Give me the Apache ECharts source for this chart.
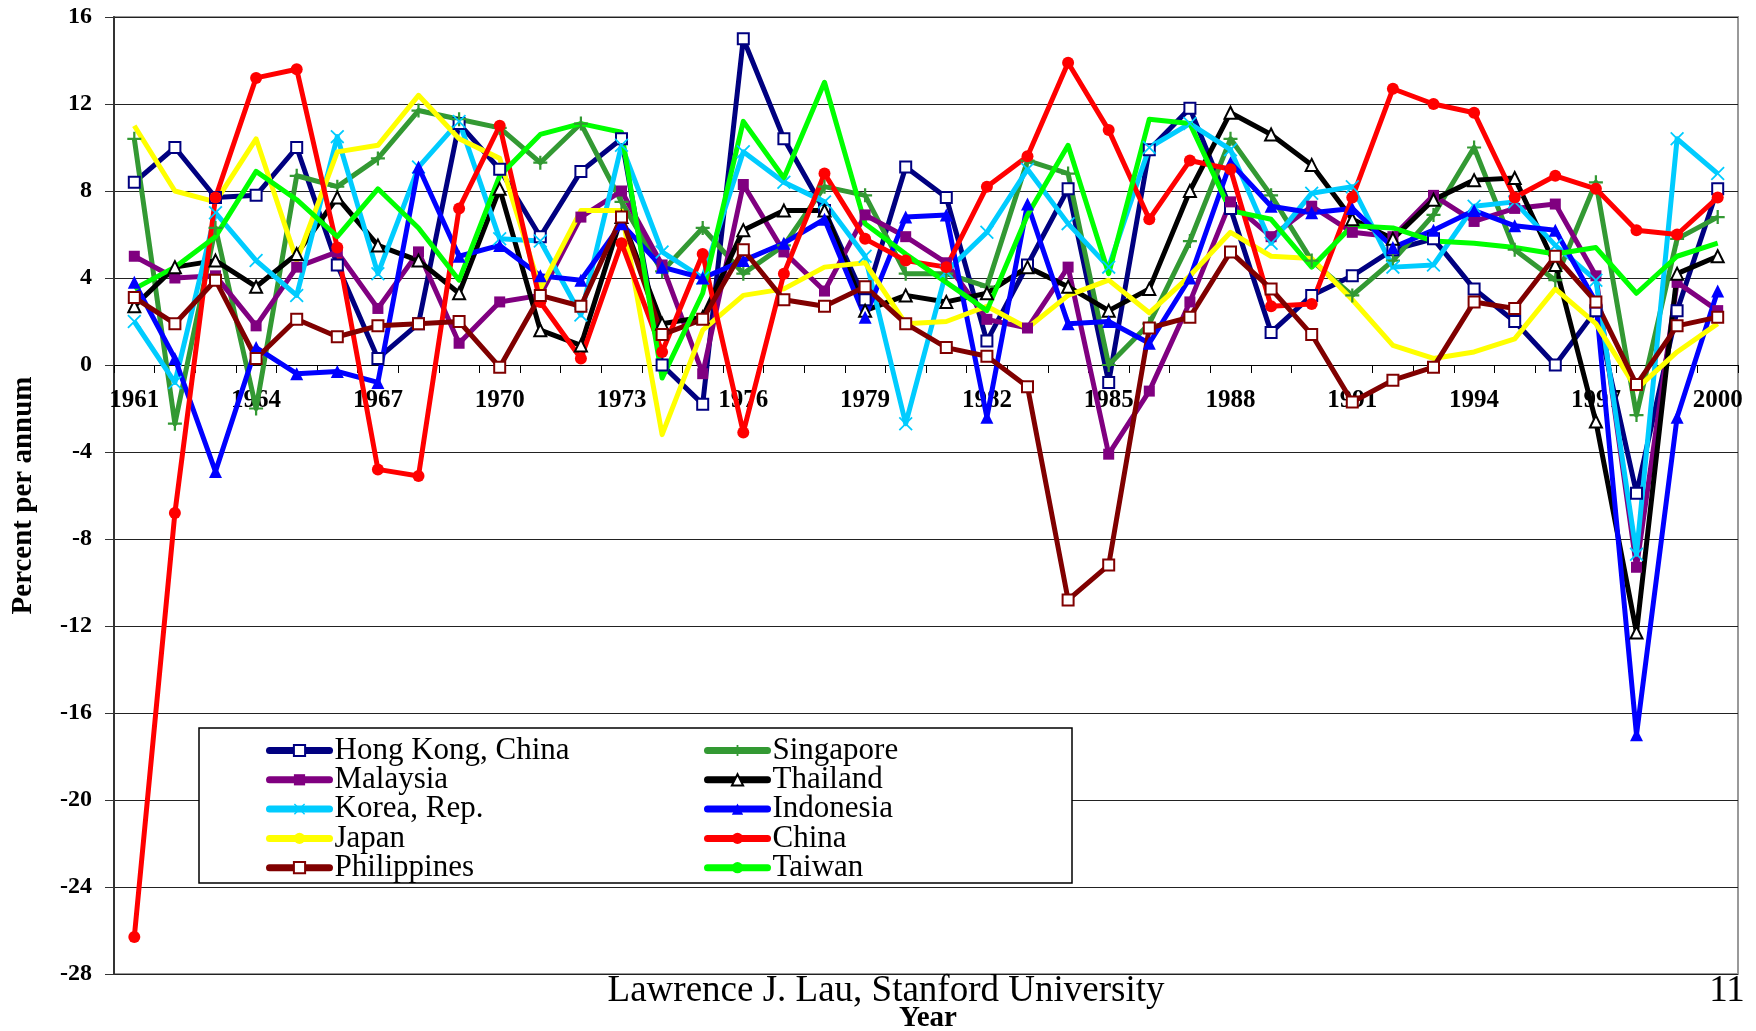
<!DOCTYPE html>
<html>
<head>
<meta charset="utf-8">
<script src="https://cdn.jsdelivr.net/npm/echarts@6/dist/echarts.min.js"></script>
<style>
  html, body { margin: 0; padding: 0; background: #ffffff; }
  #chart { width: 1756px; height: 1031px; }
</style>
</head>
<body>
<div id="chart"></div>
<script>
// Annual growth, percent per annum, 1961-2000
const years = ['1961','1962','1963','1964','1965','1966','1967','1968','1969','1970',
               '1971','1972','1973','1974','1975','1976','1977','1978','1979','1980',
               '1981','1982','1983','1984','1985','1986','1987','1988','1989','1990',
               '1991','1992','1993','1994','1995','1996','1997','1998','1999','2000'];

const hongKong    = [8.4, 10.0, 7.7, 7.8, 10.0, 4.6, 0.3, 1.9, 11.1, 9.0, 5.9, 8.9, 10.4, 0.0, -1.8, 15.0, 10.4, 7.1, 3.0, 9.1,
                     7.7, 1.1, 4.6, 8.1, -0.8, 9.9, 11.8, 7.2, 1.5, 3.2, 4.1, 5.3, 5.8, 3.5, 2.0, 0.0, 2.5, -5.9, 2.5, 8.1];
const singapore   = [10.4, -2.7, 6.3, -2.0, 8.7, 8.2, 9.5, 11.7, 11.3, 10.9, 9.3, 11.1, 7.5, 4.3, 6.3, 4.2, 5.5, 8.2, 7.8, 4.2,
                     4.2, 3.6, 9.4, 8.8, 0.0, 1.9, 5.7, 10.4, 7.8, 4.8, 3.2, 4.8, 6.9, 10.0, 5.3, 3.9, 8.4, -2.3, 5.8, 6.8];
const malaysia    = [5.0, 4.0, 4.1, 1.8, 4.5, 5.2, 2.6, 5.2, 1.0, 2.9, 3.2, 6.8, 8.0, 4.6, -0.4, 8.3, 5.2, 3.4, 6.9, 5.9,
                     4.7, 2.1, 1.7, 4.5, -4.1, -1.2, 2.9, 7.5, 5.9, 7.3, 6.1, 5.9, 7.8, 6.6, 7.2, 7.4, 4.1, -9.3, 3.8, 2.5];
const thailand    = [2.7, 4.5, 4.8, 3.6, 5.1, 7.7, 5.5, 4.8, 3.3, 8.1, 1.6, 0.9, 6.8, 1.9, 2.2, 6.2, 7.1, 7.1, 2.5, 3.2,
                     2.9, 3.3, 4.5, 3.6, 2.5, 3.5, 8.0, 11.6, 10.6, 9.2, 6.7, 5.8, 7.6, 8.5, 8.6, 4.6, -2.6, -12.3, 4.2, 5.0];
const korea       = [2.0, -0.8, 7.0, 4.8, 3.2, 10.5, 4.2, 9.1, 11.2, 5.8, 5.7, 2.3, 10.1, 5.2, 4.0, 9.8, 8.4, 7.5, 5.0, -2.7,
                     4.3, 6.1, 9.0, 6.5, 4.5, 10.0, 11.1, 9.9, 5.6, 7.9, 8.2, 4.5, 4.6, 7.3, 7.5, 5.5, 3.9, -8.7, 10.4, 8.8];
const indonesia   = [3.8, 0.3, -4.9, 0.8, -0.4, -0.3, -0.8, 9.1, 5.0, 5.5, 4.1, 3.9, 6.5, 4.5, 4.0, 4.8, 5.6, 6.7, 2.2, 6.8,
                     6.9, -2.4, 7.4, 1.9, 2.0, 1.0, 4.0, 9.3, 7.3, 7.0, 7.2, 5.4, 6.2, 7.1, 6.4, 6.2, 2.9, -17.0, -2.4, 3.4];
const japan       = [11.0, 8.0, 7.5, 10.4, 4.8, 9.8, 10.1, 12.4, 10.4, 9.5, 3.5, 7.1, 7.1, -3.2, 1.6, 3.2, 3.5, 4.5, 4.7, 1.9,
                     2.0, 2.7, 1.7, 3.2, 3.9, 2.4, 4.1, 6.1, 5.0, 4.9, 3.0, 0.9, 0.3, 0.6, 1.2, 3.5, 1.9, -1.1, 0.6, 1.9];
const china       = [-26.3, -6.8, 7.7, 13.2, 13.6, 5.4, -4.8, -5.1, 7.2, 11.0, 2.9, 0.3, 5.6, 0.6, 5.1, -3.1, 4.2, 8.8, 5.8, 4.8,
                     4.5, 8.2, 9.6, 13.9, 10.8, 6.7, 9.4, 9.0, 2.7, 2.8, 7.7, 12.7, 12.0, 11.6, 7.7, 8.7, 8.1, 6.2, 6.0, 7.7];
const philippines = [3.1, 1.9, 3.9, 0.3, 2.1, 1.3, 1.8, 1.9, 2.0, -0.1, 3.2, 2.7, 6.8, 1.4, 2.1, 5.3, 3.0, 2.7, 3.6, 1.9,
                     0.8, 0.4, -1.0, -10.8, -9.2, 1.7, 2.2, 5.2, 3.5, 1.4, -1.7, -0.7, -0.1, 2.9, 2.6, 5.0, 2.9, -0.9, 1.8, 2.2];
const taiwan      = [3.5, 4.5, 5.9, 8.9, 7.6, 5.9, 8.1, 6.3, 3.9, 8.7, 10.6, 11.1, 10.7, -0.6, 3.3, 11.2, 8.6, 13.0, 6.5, 5.1,
                     3.8, 2.5, 6.9, 10.1, 4.2, 11.3, 11.1, 7.1, 6.7, 4.5, 6.4, 6.3, 5.7, 5.6, 5.4, 5.1, 5.4, 3.3, 5.0, 5.6];

const yTicks = { min: -28, max: 16, step: 4 };

// Marker shapes
const PLUS  = 'path://M4.2,0H5.8V4.2H10V5.8H5.8V10H4.2V5.8H0V4.2H4.2Z';
const CROSS = 'path://M0.9,0L5,4.1L9.1,0L10,0.9L5.9,5L10,9.1L9.1,10L5,5.9L0.9,10L0,9.1L4.1,5L0,0.9Z';

const SERIF = '"Liberation Serif", "Times New Roman", serif';

// Plot box in pixels; the year axis sits on the zero line of the value axis
const GRID = { left: 114, right: 18, top: 17, bottom: 57 };
const CHART_H = 1031;
const plotH = CHART_H - GRID.top - GRID.bottom;
const zeroFromBottom = plotH * (0 - yTicks.min) / (yTicks.max - yTicks.min);

// name, values, line colour, symbol, symbol size, symbol fill, symbol border
const seriesDefs = [
  ['Hong Kong, China', hongKong,    '#000080', 'rect',     11, '#ffffff', '#000080'],
  ['Singapore',        singapore,   '#339933', PLUS,       14, '#339933', null],
  ['Malaysia',         malaysia,    '#800080', 'rect',     11, '#800080', null],
  ['Thailand',         thailand,    '#000000', 'triangle', 12, '#ffffff', '#000000'],
  ['Korea, Rep.',      korea,       '#00ccff', CROSS,      14, '#00ccff', null],
  ['Indonesia',        indonesia,   '#0000ff', 'triangle', 13, '#0000ff', null],
  ['Japan',            japan,       '#ffff00', 'none',      0, '#ffff00', null],
  ['China',            china,       '#ff0000', 'circle',   12, '#ff0000', null],
  ['Philippines',      philippines, '#800000', 'rect',     11, '#ffffff', '#800000'],
  ['Taiwan',           taiwan,      '#00ff00', 'none',      0, '#00ff00', null]
];

function itemStyleOf(d) {
  return d[6]
    ? { color: d[5], borderColor: d[6], borderWidth: 2, opacity: 1 }
    : { color: d[5], borderWidth: 0, opacity: 1 };
}

const series = seriesDefs.map(d => ({
  name: d[0],
  type: 'line',
  data: d[1],
  symbol: d[3],
  symbolSize: d[4],
  showSymbol: d[3] !== 'none',
  showAllSymbol: true,
  color: d[2],
  itemStyle: itemStyleOf(d),
  lineStyle: { color: d[2], width: 5, join: 'round' },
  emphasis: { disabled: true },
  animation: false
}));

function legendItems(names) {
  return names.map(n => {
    const d = seriesDefs.find(s => s[0] === n);
    return {
      name: n,
      itemStyle: itemStyleOf(d),
      lineStyle: { color: d[2], width: 7, cap: 'round' }
    };
  });
}

function legendBlock(names, left) {
  return {
    orient: 'vertical',
    left: left,
    top: 735,
    padding: 0,
    itemGap: -1.7,
    itemWidth: 60,
    itemHeight: 14,
    selectedMode: false,
    z: 6,
    textStyle: { fontFamily: SERIF, fontSize: 31, color: '#000', padding: [0, 0, 0, 0] },
    data: legendItems(names)
  };
}

const chart = echarts.init(document.getElementById('chart'), null, { renderer: 'canvas' });

chart.setOption({
  animation: false,
  backgroundColor: '#ffffff',
  grid: {
    left: GRID.left, right: GRID.right, top: GRID.top, bottom: GRID.bottom,
    show: true, borderColor: '#999999', borderWidth: 2, backgroundColor: 'transparent'
  },
  legend: [
    legendBlock(['Hong Kong, China', 'Malaysia', 'Korea, Rep.', 'Japan', 'Philippines'], 266),
    legendBlock(['Singapore', 'Thailand', 'Indonesia', 'China', 'Taiwan'], 704)
  ],
  xAxis: {
    type: 'category',
    data: years,
    boundaryGap: true,
    position: 'bottom',
    offset: -zeroFromBottom,
    axisLine: { onZero: false, lineStyle: { color: '#000', width: 1 } },
    axisTick: { show: true, interval: 0, length: 8, lineStyle: { color: '#000', width: 1 } },
    axisLabel: {
      interval: 2, margin: 23,
      fontFamily: SERIF, fontWeight: 'bold', fontSize: 25, color: '#000'
    },
    splitLine: { show: false }
  },
  yAxis: {
    type: 'value',
    min: yTicks.min, max: yTicks.max, interval: yTicks.step,
    name: 'Percent per annum',
    nameLocation: 'middle',
    nameRotate: 90,
    nameGap: 76,
    nameTextStyle: { fontFamily: SERIF, fontWeight: 'bold', fontSize: 29, color: '#000' },
    axisLine: { show: true, lineStyle: { color: '#333', width: 2 } },
    axisTick: { show: true, length: 9, lineStyle: { color: '#333', width: 1 } },
    axisLabel: { margin: 22, fontFamily: SERIF, fontWeight: 'bold', fontSize: 24, color: '#000' },
    splitLine: { show: true, lineStyle: { color: '#222', width: 1 } }
  },
  graphic: [
    {
      type: 'rect', z: 5,
      shape: { x: 199, y: 728, width: 873, height: 155 },
      style: { fill: '#ffffff', stroke: '#000000', lineWidth: 1.5 }
    },
    {
      type: 'text', x: 886, y: 991, z: 5,
      style: { text: 'Lawrence J. Lau, Stanford University', fontFamily: SERIF, fontSize: 37,
               fill: '#000', align: 'center', verticalAlign: 'middle' }
    },
    {
      type: 'text', x: 1727, y: 991, z: 5,
      style: { text: '11', fontFamily: SERIF, fontSize: 37, fill: '#000', align: 'center', verticalAlign: 'middle' }
    },
    {
      type: 'text', x: 928, y: 1019, z: 5,
      style: { text: 'Year', fontFamily: SERIF, fontSize: 29, fontWeight: 'bold', fill: '#000',
               align: 'center', verticalAlign: 'middle' }
    }
  ],
  series: series
});
</script>
</body>
</html>
